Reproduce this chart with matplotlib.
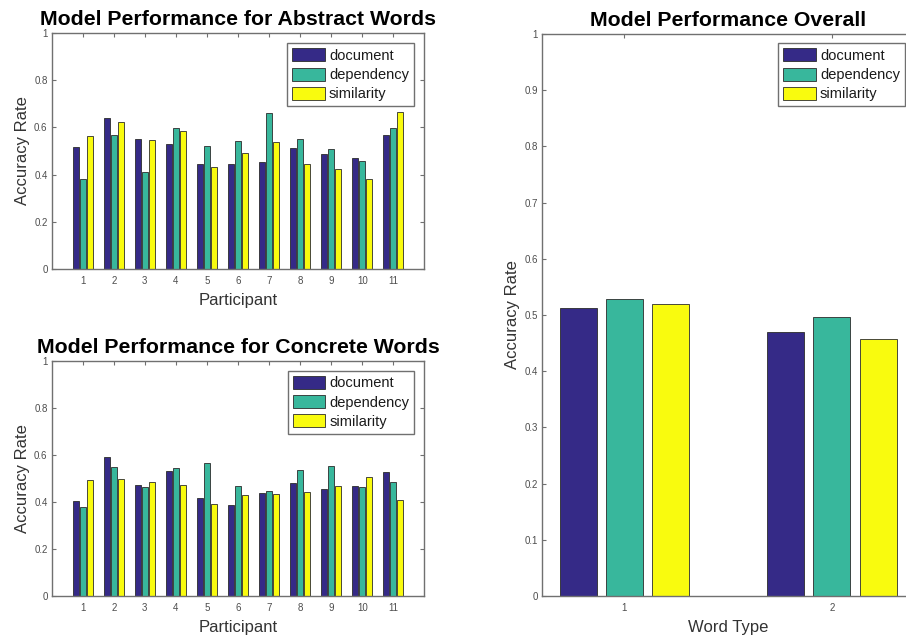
import numpy as np
import matplotlib
matplotlib.use("Agg")
import matplotlib.pyplot as plt

plt.rcParams['font.family'] = ['Liberation Sans', 'DejaVu Sans']

# ---- data ----
participants = list(range(1, 12))
series_names = ["document", "dependency", "similarity"]

abstract_document = [0.517, 0.642, 0.551, 0.528, 0.446, 0.446, 0.455, 0.513, 0.487, 0.470, 0.568]
abstract_dependency = [0.380, 0.568, 0.412, 0.598, 0.520, 0.542, 0.660, 0.550, 0.507, 0.459, 0.598]
abstract_similarity = [0.565, 0.625, 0.545, 0.584, 0.431, 0.493, 0.538, 0.446, 0.422, 0.380, 0.664]

concrete_document = [0.404, 0.593, 0.472, 0.532, 0.417, 0.387, 0.438, 0.482, 0.457, 0.470, 0.528]
concrete_dependency = [0.379, 0.548, 0.465, 0.546, 0.567, 0.470, 0.445, 0.536, 0.553, 0.465, 0.485]
concrete_similarity = [0.494, 0.498, 0.487, 0.471, 0.390, 0.431, 0.435, 0.444, 0.467, 0.508, 0.407]

word_types = [1, 2]
overall_document = [0.513, 0.470]
overall_dependency = [0.528, 0.496]
overall_similarity = [0.519, 0.457]

colors = ["#352A87", "#38B79C", "#F9FB0E"]
edge_col = "#2b2b2b"
spine_col = "#707070"
tick_col = "#4d4d4d"
text_col = "#1a1a1a"

W, H = 906, 640
fig = plt.figure(figsize=(W / 100, H / 100), dpi=100)


def px_axes(left, top, right, bottom):
    return fig.add_axes([left / W, (H - bottom) / H, (right - left) / W, (bottom - top) / H])


def grouped_bars(ax, x, groups, offset, width):
    handles = []
    for k, (vals, col, name) in enumerate(zip(groups, colors, series_names)):
        pos = np.asarray(x, dtype=float) + (k - 1) * offset
        h = ax.bar(pos, vals, width=width, color=col, edgecolor=edge_col,
                   linewidth=0.6, label=name, zorder=2)
        handles.append(h)
    return handles


def style_axes(ax, xticks, yticks, ylabels):
    ax.set_xticks(xticks)
    ax.set_xticklabels([str(t) for t in xticks])
    ax.set_yticks(yticks)
    ax.set_yticklabels(ylabels)
    ax.set_ylim(0, 1)
    ax.tick_params(direction="in", top=True, right=True, length=2.6, width=0.8,
                   colors=spine_col, labelcolor=tick_col, labelsize=7)
    ax.tick_params(axis="x", pad=5)
    ax.tick_params(axis="y", pad=3)
    for s in ax.spines.values():
        s.set_color(spine_col)
        s.set_linewidth(1.0)


def add_legend(ax, bx, by):
    leg = ax.legend(loc="upper right", bbox_to_anchor=(bx, by), borderaxespad=0,
                    fontsize=10.5, handlelength=2.2, handleheight=1.0,
                    handletextpad=0.3, labelspacing=0.32, borderpad=0.35,
                    fancybox=False, framealpha=1, edgecolor=spine_col)
    leg.get_frame().set_linewidth(1.0)
    for t in leg.get_texts():
        t.set_color(text_col)


frac_ticks = [0, 0.2, 0.4, 0.6, 0.8, 1]
frac_labels = ["0", "0.2", "0.4", "0.6", "0.8", "1"]

# Abstract words
ax1 = px_axes(51.7, 33.3, 424.3, 268.7)
grouped_bars(ax1, participants, [abstract_document, abstract_dependency, abstract_similarity], 0.222, 0.19)
ax1.set_xlim(0, 12)
style_axes(ax1, participants, frac_ticks, frac_labels)
ax1.set_title("Model Performance for Abstract Words", fontsize=15.3, fontweight="bold",
              color="black", pad=6)
ax1.set_xlabel("Participant", fontsize=12, color="#333333", labelpad=5)
ax1.set_ylabel("Accuracy Rate", fontsize=12, color="#333333", labelpad=3)
add_legend(ax1, 0.9724, 0.9575)

# Concrete words
ax2 = px_axes(51.7, 361, 424.3, 596)
grouped_bars(ax2, participants, [concrete_document, concrete_dependency, concrete_similarity], 0.222, 0.19)
ax2.set_xlim(0, 12)
style_axes(ax2, participants, frac_ticks, frac_labels)
ax2.set_title("Model Performance for Concrete Words", fontsize=15.3, fontweight="bold",
              color="black", pad=6)
ax2.set_xlabel("Participant", fontsize=12, color="#333333", labelpad=5)
ax2.set_ylabel("Accuracy Rate", fontsize=12, color="#333333", labelpad=3)
add_legend(ax2, 0.9732, 0.9587)

# Overall
ax3 = px_axes(542, 34, 915, 596)
grouped_bars(ax3, word_types, [overall_document, overall_dependency, overall_similarity], 0.222, 0.178)
ax3.set_xlim(0.604, 2.4)
tenth_ticks = [i / 10 for i in range(11)]
tenth_labels = ["0"] + [f"{t:.1f}" for t in tenth_ticks[1:-1]] + ["1"]
style_axes(ax3, word_types, tenth_ticks, tenth_labels)
ax3.set_title("Model Performance Overall", fontsize=15.3, fontweight="bold",
              color="black", pad=6)
ax3.set_xlabel("Word Type", fontsize=12, color="#333333", labelpad=5)
ax3.set_ylabel("Accuracy Rate", fontsize=12, color="#333333", labelpad=3)
add_legend(ax3, 0.9732, 0.9834)

fig.savefig("out.png", dpi=100)
